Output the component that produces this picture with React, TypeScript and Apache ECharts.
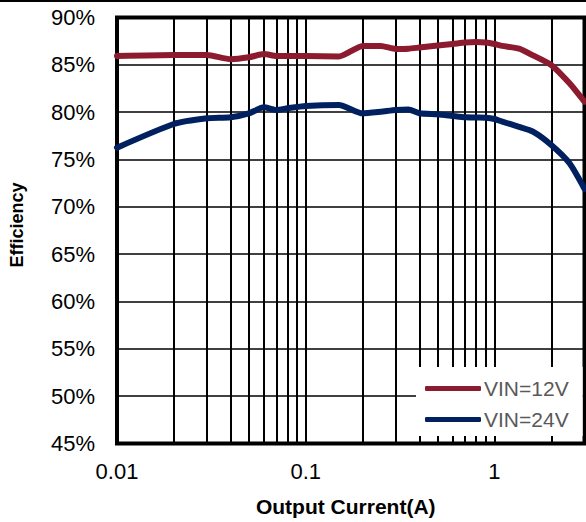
import React, { useEffect, useRef } from "react";
import * as echarts from "echarts";

const currents = [0.01, 0.02, 0.03, 0.04, 0.05, 0.06, 0.07, 0.08, 0.1, 0.15, 0.2, 0.25, 0.3, 0.35, 0.4, 0.5, 0.6, 0.7, 0.8, 0.9, 1, 1.1, 1.35, 1.6, 2, 2.5, 3];
const vin12 = [85.93, 86.04, 86.04, 85.6, 85.8, 86.14, 85.93, 85.93, 85.93, 85.88, 86.99, 87.0, 86.67, 86.7, 86.83, 87.04, 87.2, 87.36, 87.41, 87.36, 87.2, 87.0, 86.7, 86.0, 84.98, 83.05, 81.1];
const vin24 = [76.25, 78.75, 79.35, 79.46, 79.88, 80.51, 80.23, 80.41, 80.65, 80.76, 79.88, 80.05, 80.23, 80.28, 79.88, 79.77, 79.6, 79.46, 79.44, 79.42, 79.28, 79.0, 78.45, 77.94, 76.53, 74.6, 71.9];
const minorGrid = [0.02, 0.03, 0.04, 0.05, 0.06, 0.07, 0.08, 0.09, 0.2, 0.3, 0.4, 0.5, 0.6, 0.7, 0.8, 0.9, 2];
const seriesNames = ["VIN=12V", "VIN=24V"];
const seriesColors = ["#8C1B2F", "#002060"];

export default function App() {
  const ref = useRef<HTMLDivElement>(null);
  useEffect(() => {
    document.body.style.margin = "0";
    if (!ref.current) return;
    const chart = echarts.init(ref.current, null, { renderer: "svg" });
    const font = "'Liberation Sans', Arial, sans-serif";
    chart.setOption({
      animation: false,
      textStyle: { fontFamily: font },
      graphic: [
        { type: "rect", left: 0, top: 0, shape: { width: 586, height: 2 }, style: { fill: "#000" } },
      ],
      grid: {
        left: 116.7,
        right: 1.5,
        top: 17.5,
        bottom: 78.5,
        show: true,
        borderColor: "#000",
        borderWidth: 4,
        backgroundColor: "transparent",
      },
      legend: {
        data: seriesNames.map((n) => ({ name: n, icon: "roundRect" })),
        orient: "vertical",
        left: 416,
        top: 367,
        backgroundColor: "#fff",
        padding: [11, 14, 6, 9],
        itemWidth: 56,
        itemHeight: 5,
        itemGap: 10,
        textStyle: { fontSize: 21, color: "#595959", fontFamily: font, padding: [0, 0, 0, -2] },
        z: 4,
      },
      xAxis: {
        type: "log",
        logBase: 10,
        min: 0.01,
        max: 3,
        name: "Output Current(A)",
        nameLocation: "middle",
        nameGap: 52,
        nameTextStyle: { fontSize: 21, fontWeight: "bold", color: "#000", padding: [0, 10, 0, 0] },
        axisLine: { show: false },
        axisTick: { show: false },
        axisLabel: {
          fontSize: 22,
          color: "#000",
          margin: 17,
          showMaxLabel: false,
          formatter: (v: number) => String(+v.toPrecision(3)),
        },
        splitLine: { show: true, lineStyle: { color: "#000", width: 2 } },
      },
      yAxis: {
        type: "value",
        min: 45,
        max: 90,
        interval: 5,
        name: "Efficiency",
        nameLocation: "middle",
        nameGap: 91,
        nameTextStyle: { fontSize: 18, fontWeight: "bold", color: "#000", padding: [0, 0, 0, 11] },
        axisLine: { show: false },
        axisTick: { show: false },
        axisLabel: { fontSize: 22, color: "#000", margin: 22, formatter: "{value}%" },
        splitLine: { show: true, lineStyle: { color: "#000", width: 1.5 } },
      },
      series: [
        {
          name: "gridlines",
          type: "line",
          data: [],
          silent: true,
          markLine: {
            silent: true,
            z: 1,
            symbol: ["none", "none"],
            label: { show: false },
            lineStyle: { color: "#000", width: 2, type: "solid" },
            emphasis: { disabled: true },
            data: minorGrid.map((v) => ({ xAxis: v })),
          },
        },
        ...[vin12, vin24].map((vals, i) => ({
          name: seriesNames[i],
          type: "line",
          z: 3,
          smooth: 0.2,
          symbol: "none",
          data: currents.map((c, j) => [c, vals[j]]),
          lineStyle: { color: seriesColors[i], width: 6, cap: "round", join: "round" },
          itemStyle: { color: seriesColors[i] },
        })),
      ],
    });
    return () => chart.dispose();
  }, []);
  return <div ref={ref} style={{ width: 586, height: 522 }} />;
}
